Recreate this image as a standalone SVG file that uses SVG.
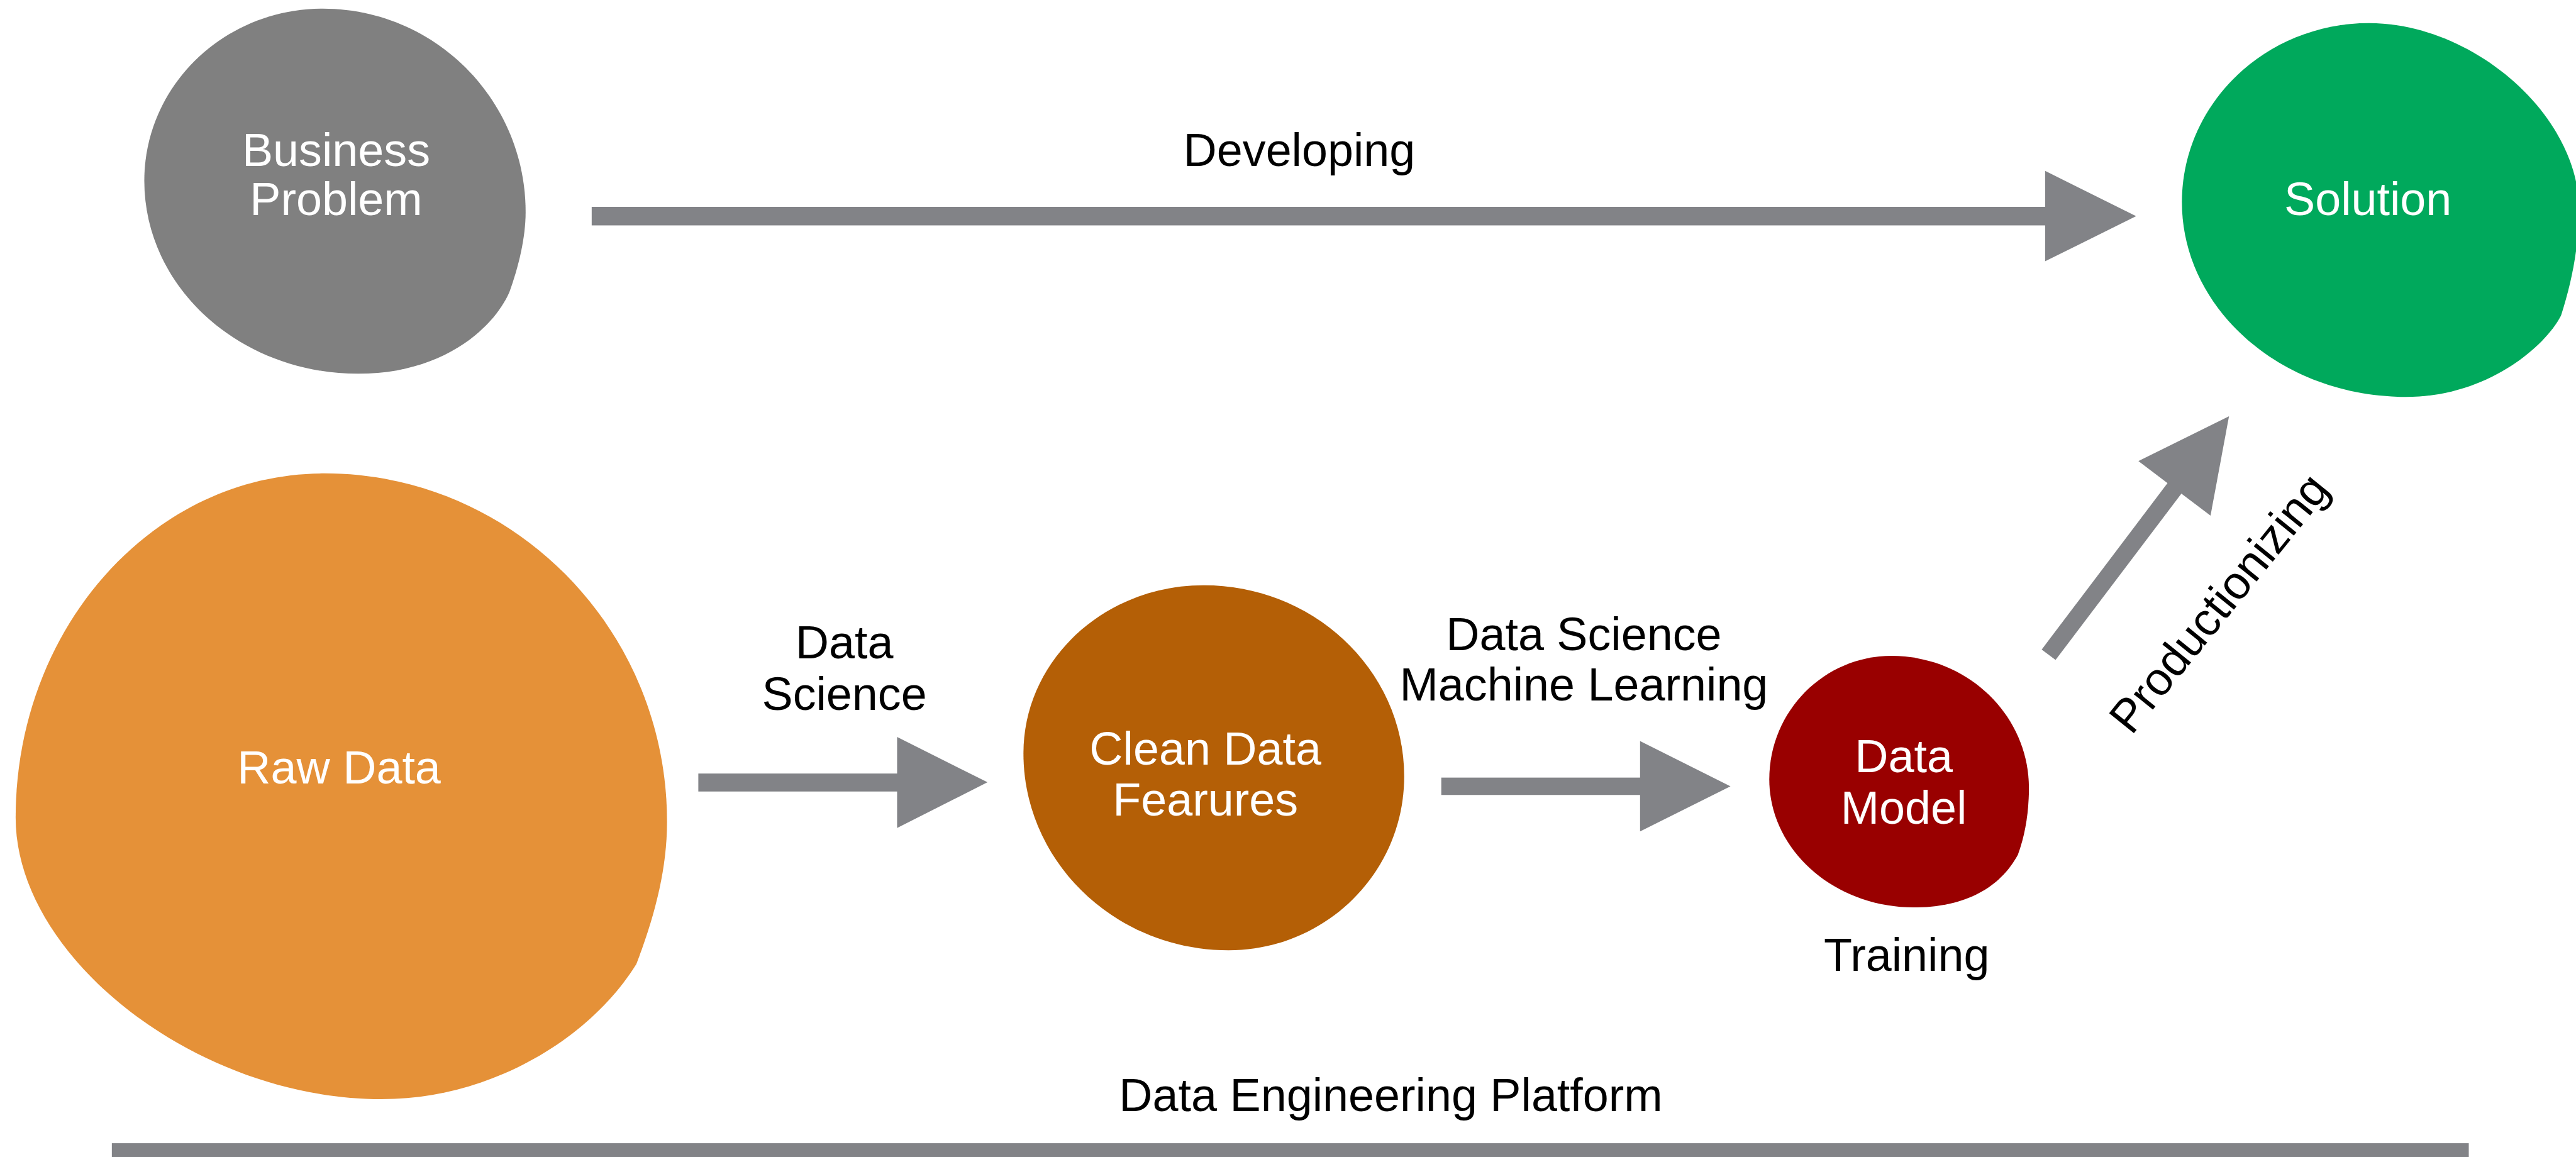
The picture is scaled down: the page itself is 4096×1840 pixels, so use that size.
<svg xmlns="http://www.w3.org/2000/svg" width="4096" height="1840" viewBox="0 0 4096 1840">
<style>
text{font-family:"Liberation Sans",Arial,sans-serif;font-size:80px;text-anchor:middle}
.lbl{fill:#000}
.in{fill:#fff}
.arrow{fill:#828387}
</style>
<rect width="4096" height="1840" fill="#fff"/>
<g transform="scale(0.92148)">
<g id="connectors">
<g id="edge-developing">
<rect class="arrow" x="1021" y="357" width="2509" height="32"/>
<polygon class="arrow" points="3529,295 3686,373 3529,451"/>
</g>
<g id="edge-datascience">
<rect class="arrow" x="1205" y="1335" width="344" height="31"/>
<polygon class="arrow" points="1548,1272 1704,1350 1548,1429"/>
</g>
<g id="edge-ml">
<rect class="arrow" x="2487" y="1342" width="344" height="30"/>
<polygon class="arrow" points="2830,1279 2986,1357 2830,1435"/>
</g>
<g id="edge-productionizing" transform="translate(3535,1130) rotate(-52.9)">
<rect class="arrow" x="0" y="-15" width="361" height="30"/>
<polygon class="arrow" points="360,-78 516,0 360,78"/>
</g>
<g id="edge-platform">
<rect class="arrow" x="193" y="1973" width="4067" height="30"/>
</g>
<text class="lbl" x="2242" y="287">Developing</text>
<text class="lbl" x="1457" y="1136">Data</text>
<text class="lbl" x="1457" y="1225">Science</text>
<text class="lbl" x="2733" y="1122">Data Science</text>
<text class="lbl" x="2733" y="1209">Machine Learning</text>
<text class="lbl" transform="translate(3850,1058) rotate(-51)">Productionizing</text>
<text class="lbl" x="2400" y="1918">Data Engineering Platform</text>
</g>
<g id="node-business">
<path fill="#808080" d="M557,15 C387,15 249,148 249,312 C249,496 414,645 618,645 C760,645 850,570 879,504 C895,460 907,410 907,366 C907,172 750,15 557,15 Z"/>
<text class="in" x="580" y="287">Business</text>
<text class="in" x="580" y="371">Problem</text>
</g>
<g id="node-solution">
<path fill="#00a95c" d="M4088,40 C3910,40 3765,178 3765,349 C3765,534 3938,685 4151,685 C4290,685 4390,600 4419,545 C4440,480 4450,420 4450,360 C4450,200 4269,40 4088,40 Z"/>
<text class="in" x="4086" y="371">Solution</text>
</g>
<g id="node-rawdata">
<path fill="#e59138" d="M559,817 C265,817 27,1083 27,1411 C27,1654 342,1897 658,1897 C850,1897 1020,1790 1098,1664 C1130,1580 1151,1500 1151,1418 C1151,1086 886,817 559,817 Z"/>
<text class="in" x="585" y="1352">Raw Data</text>
</g>
<g id="node-clean">
<path fill="#b45f06" d="M2077,1010 C1905,1010 1766,1140 1766,1300 C1766,1488 1925,1640 2120,1640 C2287,1640 2423,1506 2423,1340 C2423,1158 2268,1010 2077,1010 Z"/>
<text class="in" x="2080" y="1320">Clean Data</text>
<text class="in" x="2080" y="1408">Fearures</text>
</g>
<g id="node-model">
<path fill="#990000" d="M3264,1132 C3148,1132 3053,1227 3053,1345 C3053,1467 3165,1566 3302,1566 C3400,1566 3455,1525 3482,1475 C3495,1440 3501,1400 3501,1360 C3501,1234 3395,1132 3264,1132 Z"/>
<text class="in" x="3285" y="1333">Data</text>
<text class="in" x="3285" y="1422">Model</text>
<text class="lbl" x="3290" y="1676">Training</text>
</g>
</g>
</svg>
